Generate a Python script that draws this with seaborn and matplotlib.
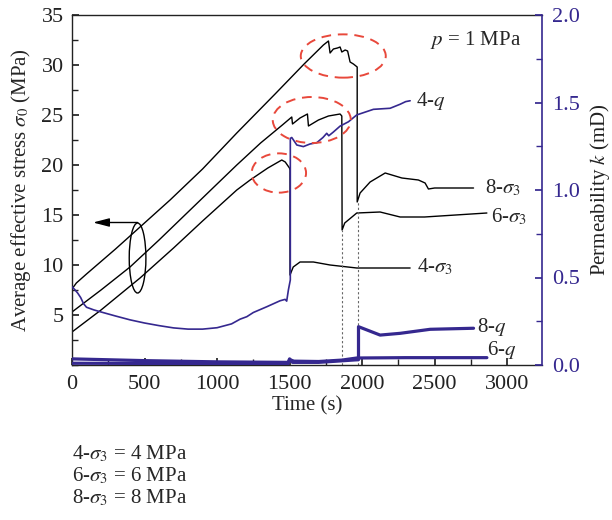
import numpy as np
import pandas as pd
import matplotlib
matplotlib.use("Agg")
import matplotlib.pyplot as plt
import seaborn as sns
from matplotlib.patches import Ellipse
from matplotlib.ticker import MultipleLocator, FormatStrFormatter

# ---------------- data ----------------
t_8s = [0, 30, 100, 200, 300, 446, 676, 900, 1136, 1400, 1600, 1733, 1768, 1779, 1802, 1830, 1848,
        1860, 1883, 1900, 1917, 1940, 1966, 1966, 1986, 2055, 2159, 2274, 2388, 2434, 2457, 2500, 2768]
s_8s = [7.6, 8.2, 9.1, 10.35, 11.6, 13.5, 16.5, 19.6, 23.2, 27.1, 30.1, 32.0, 32.4, 31.2, 31.6, 31.7, 31.8,
        31.3, 31.5, 31.4, 30.3, 30.1, 29.8, 16.3, 17.2, 18.3, 19.2, 18.7, 18.5, 18.2, 17.6, 17.7, 17.7]

t_6s = [0, 200, 400, 600, 800, 1000, 1136, 1300, 1450, 1515, 1520, 1572, 1623, 1630, 1699, 1768,
        1848, 1860, 1862, 1880, 1963, 2124, 2262, 2430, 2860]
s_6s = [5.3, 7.5, 9.8, 12.5, 15.3, 18.1, 20.0, 22.2, 24.0, 24.8, 24.1, 24.7, 25.1, 23.9, 24.5, 24.9,
        25.1, 24.9, 13.5, 14.2, 15.2, 15.3, 14.8, 14.8, 15.2]

t_4s = [0, 200, 469, 700, 900, 1136, 1228, 1350, 1446, 1470, 1499, 1503, 1503, 1525, 1572, 1664,
        1779, 1963, 2331]
s_4s = [3.3, 5.5, 8.7, 11.7, 14.4, 17.5, 18.5, 19.7, 20.5, 20.3, 19.7, 19.5, 9.0, 9.8, 10.3, 10.3,
        10.0, 9.7, 9.7]

t_4q = [0, 20, 40, 60, 80, 100, 150, 200, 300, 400, 500, 600, 700, 800, 900, 1000, 1100, 1159,
        1205, 1250, 1343, 1434, 1469, 1480, 1492, 1505, 1505, 1515, 1550, 1595, 1641, 1687, 1730,
        1756, 1770, 1800, 1848, 1906, 1963, 2078, 2193, 2262, 2300, 2331]
k_4q = [0.447, 0.43, 0.41, 0.385, 0.35, 0.33, 0.315, 0.303, 0.28, 0.258, 0.24, 0.225, 0.212,
        0.205, 0.205, 0.213, 0.235, 0.262, 0.276, 0.30, 0.333, 0.367, 0.375, 0.365, 0.43, 0.486,
        1.295, 1.30, 1.257, 1.248, 1.263, 1.27, 1.30, 1.324, 1.31, 1.33, 1.365, 1.39, 1.429,
        1.461, 1.467, 1.49, 1.505, 1.51]

t_6q = [0, 500, 1000, 1490, 1500, 1510, 1530, 1700, 1860, 1963, 2300, 2860]
k_6q = [0.035, 0.025, 0.018, 0.015, 0.035, 0.028, 0.022, 0.020, 0.028, 0.040, 0.042, 0.042]

t_8q = [0, 1000, 1490, 1500, 1520, 1700, 1952, 1975, 1975, 2124, 2262, 2469, 2768]
k_8q = [0.010, 0.008, 0.008, 0.030, 0.015, 0.015, 0.029, 0.030, 0.219, 0.171, 0.181, 0.204, 0.210]

drop_times = [1862, 1975]
drop_tops = [13.5, 16.3]

BLUE = "#35288f"
RED = "#e8483b"

# ---------------- figure ----------------
sns.set_theme(style="ticks")
plt.rcParams["font.family"] = ["Liberation Serif", "DejaVu Serif"]
plt.rcParams["mathtext.fontset"] = "stix"
plt.rcParams["font.size"] = 15

fig = plt.figure(figsize=(6.12, 5.2), dpi=100)
ax = fig.add_axes([72/612, 1-365/520, 470/612, 350/520])
ax2 = ax.twinx()

def draw(axis, t, v, color, lw):
    sns.lineplot(x=t, y=v, ax=axis, color=color, lw=lw, estimator=None, sort=False,
                 legend=False)

for t, s in [(t_8s, s_8s), (t_6s, s_6s), (t_4s, s_4s)]:
    draw(ax, t, s, "black", 1.0)

for tt, top in zip(drop_times, drop_tops):
    ax.plot([tt, tt], [0, top], ls=(0, (2, 2)), color="#666666", lw=0.8)

draw(ax2, t_4q, k_4q, BLUE, 1.2)
draw(ax2, t_6q, k_6q, BLUE, 2.3)
draw(ax2, t_8q, k_8q, BLUE, 2.3)

ax.set_xlim(0, 3240)
ax.set_ylim(0, 35)
ax2.set_ylim(0, 2.0)

ax.set_xticks(np.arange(0, 3001, 500))
ax.xaxis.set_minor_locator(MultipleLocator(250))
ax.set_yticks(np.arange(5, 36, 5))
ax.yaxis.set_minor_locator(MultipleLocator(2.5))
ax2.set_yticks(np.arange(0, 2.01, 0.5))
ax2.yaxis.set_minor_locator(MultipleLocator(0.25))
ax2.yaxis.set_major_formatter(FormatStrFormatter("%.1f"))

ax.tick_params(axis="both", which="both", direction="in", colors="#222222", labelsize=16)
ax.tick_params(axis="both", which="major", length=5)
ax.tick_params(axis="both", which="minor", length=4)
ax.tick_params(axis="x", pad=7)
ax.tick_params(axis="y", pad=6, right=False)
ax.tick_params(axis="x", top=False)
ax2.tick_params(axis="y", which="both", direction="in", colors=BLUE, labelsize=16, pad=7)
ax2.tick_params(axis="y", which="major", length=5)
ax2.tick_params(axis="y", which="minor", length=4)

for sp in ["left", "bottom", "top"]:
    ax2.spines[sp].set_visible(False)
    ax.spines[sp].set_color("#222222")
    ax.spines[sp].set_linewidth(1.0)
ax2.spines["right"].set_color(BLUE)
ax2.spines["right"].set_linewidth(1.2)
ax.spines["right"].set_visible(False)

ax.set_xlabel("Time (s)", fontsize=15, labelpad=2)
ax.set_ylabel(r"Average effective stress $\sigma_0$ (MPa)", fontsize=15, labelpad=6)
ax2.set_ylabel(r"Permeability $k$ (mD)", fontsize=15, labelpad=6, color="#222222")

# red dashed ellipses
for (cx, cy, w, h) in [(1870, 30.9, 586, 4.33), (1653, 24.5, 538, 4.6), (1426, 19.2, 375, 3.93)]:
    e = Ellipse((cx, cy), w, h, transform=ax.transData, fill=False, edgecolor=RED,
                lw=1.4, ls=(0, (5, 3.5)), zorder=10)
    ax2.add_patch(e)

# black ellipse + arrow
ax.add_patch(Ellipse((452, 10.7), 115, 7.0, fill=False, edgecolor="black", lw=1.0))
ax.annotate("", xy=(145, 14.25), xytext=(452, 14.25),
            arrowprops=dict(arrowstyle="-|>,head_length=0.65,head_width=0.17",
                            color="black", lw=1.0, shrinkA=0, shrinkB=0))

# curve labels
ax.text(2848, 17.2, r"8-$\sigma_3$", fontsize=15, va="baseline", ha="left")
ax.text(2890, 14.3, r"6-$\sigma_3$", fontsize=15, va="baseline", ha="left")
ax.text(2381, 9.3, r"4-$\sigma_3$", fontsize=15, va="baseline", ha="left")
ax2.text(2370, 1.48, r"4-$q$", fontsize=15, va="baseline", ha="left")
ax2.text(2791, 0.19, r"8-$q$", fontsize=15, va="baseline", ha="left")
ax2.text(2860, 0.057, r"6-$q$", fontsize=15, va="baseline", ha="left")
ax.text((430-72)/470, (365-45)/350, r"$p$ = 1 MPa", transform=ax.transAxes,
        fontsize=15, va="baseline", ha="left")

# bottom notes
for i, s in enumerate([r"4-$\sigma_3$ = 4 MPa", r"6-$\sigma_3$ = 6 MPa", r"8-$\sigma_3$ = 8 MPa"]):
    fig.text(72/612, 1-(459+22*i)/520, s, fontsize=15, va="baseline", ha="left")

fig.savefig("out.png", dpi=100)
